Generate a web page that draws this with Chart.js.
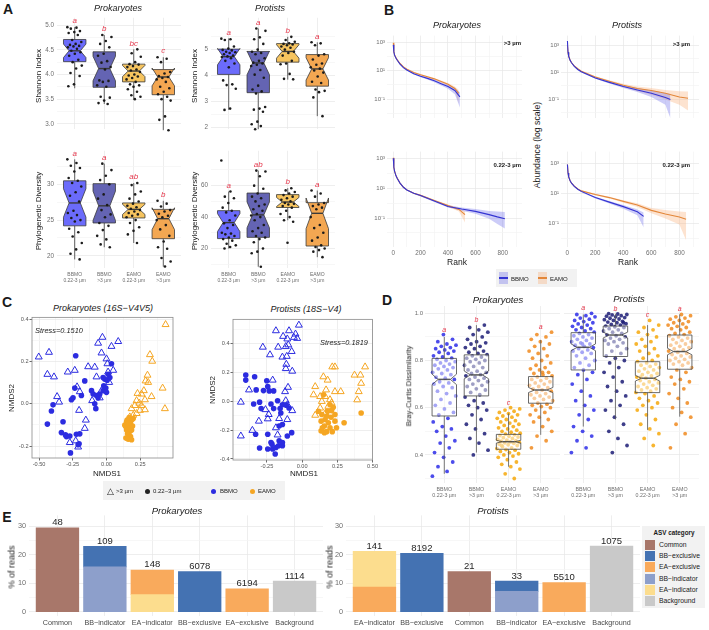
<!DOCTYPE html>
<html>
<head>
<meta charset="utf-8">
<script src="https://cdn.jsdelivr.net/npm/chart.js@4.4.1/dist/chart.umd.min.js"></script>
<style>
  body { margin: 0; width: 709px; height: 630px; position: relative; overflow: hidden; background: #fff;
         font-family: 'Liberation Sans', Arial, sans-serif; }
  canvas { position: absolute; }
  .t { position: absolute; white-space: nowrap; line-height: 1; color: #1a1a1a; }
  .bg { position: absolute; background: #f2f2f2; }
</style>
</head>
<body>
<script>
// ---------- data ----------

// Panel A: alpha diversity, boxes are [low whisker, q1, median, q3, high whisker]
const groupLabels = [['BBMO', '0.22-3 µm'], ['BBMO', '>3 µm'], ['EAMO', '0.22-3 µm'], ['EAMO', '>3 µm']];

const prokShannonBox = [[3.72, 4.26, 4.48, 4.71, 4.96], [3.40, 3.74, 4.12, 4.46, 4.80], [3.49, 3.85, 4.07, 4.21, 4.51], [2.87, 3.59, 3.95, 4.10, 4.35]];
const prokShannonPts = [
  [4.96, 4.95, 4.93, 4.88, 4.86, 4.84, 4.80, 4.70, 4.66, 4.62, 4.60, 4.58, 4.57, 4.55, 4.52, 4.48, 4.45, 4.42, 4.38, 4.30, 4.25, 4.18, 4.12, 4.03, 3.97, 3.80, 3.76],
  [4.80, 4.76, 4.68, 4.62, 4.55, 4.42, 4.38, 4.27, 4.24, 4.15, 4.10, 3.88, 3.87, 3.85, 3.78, 3.75, 3.55, 3.53, 3.47, 3.42, 3.40],
  [4.51, 4.43, 4.36, 4.25, 4.21, 4.20, 4.17, 4.15, 4.10, 4.08, 4.05, 4.00, 3.98, 3.96, 3.93, 3.90, 3.85, 3.80, 3.78, 3.75, 3.70, 3.65, 3.58, 3.55, 3.50],
  [4.35, 4.32, 4.25, 4.05, 4.02, 3.97, 3.95, 3.93, 3.90, 3.85, 3.75, 3.72, 3.65, 3.60, 3.55, 3.50, 3.47, 3.15, 3.08, 2.87]
];
const prokShannonSig = ['a', 'b', 'bc', 'c'];

const prokPdBox = [[19.5, 24.2, 27.4, 30.5, 33.5], [21.2, 24.6, 27.0, 30.1, 32.9], [21.8, 25.3, 26.5, 27.4, 30.2], [18.5, 22.4, 25.2, 26.5, 27.7]];
const prokPdPts = [
  [33.5, 33.0, 32.6, 32.3, 31.8, 30.9, 30.5, 30.2, 29.7, 28.9, 28.4, 27.6, 26.3, 26.0, 25.7, 25.3, 25.0, 24.8, 23.8, 23.3, 22.7, 21.8, 20.9, 20.3, 19.5],
  [32.9, 32.0, 31.2, 30.6, 30.0, 28.6, 28.0, 27.1, 26.4, 25.8, 25.4, 24.6, 24.2, 23.6, 22.8, 22.3, 21.6, 21.2],
  [30.2, 29.9, 29.0, 28.6, 28.0, 27.6, 27.3, 27.0, 26.8, 26.6, 26.4, 26.2, 26.0, 25.8, 25.6, 25.4, 25.0, 24.6, 24.0, 23.5, 23.0, 21.8],
  [27.7, 27.3, 26.9, 26.4, 26.2, 25.9, 25.6, 25.4, 25.0, 24.3, 23.7, 22.8, 22.0, 21.2, 21.0, 19.7, 19.2, 18.5]
];
const prokPdSig = ['a', 'a', 'ab', 'b'];

const protShannonBox = [[2.67, 4.03, 4.71, 5.00, 5.41], [1.93, 3.33, 4.47, 4.91, 5.79], [3.83, 4.50, 4.91, 5.21, 5.47], [2.43, 3.58, 4.24, 4.79, 5.26]];
const protShannonPts = [
  [5.40, 5.38, 5.35, 5.10, 5.02, 4.97, 4.95, 4.90, 4.88, 4.85, 4.80, 4.75, 4.72, 4.70, 4.65, 4.55, 4.45, 4.30, 3.80, 3.65, 3.62, 3.48, 2.72, 2.67],
  [5.79, 5.70, 5.45, 5.38, 5.20, 4.98, 4.90, 4.85, 4.80, 4.65, 4.55, 4.48, 4.45, 4.40, 4.35, 4.20, 4.02, 3.90, 3.60, 3.45, 3.38, 3.30, 2.78, 2.72, 2.68, 2.60, 2.22, 2.12, 2.05, 1.93],
  [5.47, 5.35, 5.28, 5.22, 5.20, 5.18, 5.15, 5.10, 5.05, 4.98, 4.90, 4.85, 4.75, 4.55, 4.45, 4.42, 4.05, 3.86, 3.84],
  [5.26, 5.22, 5.15, 4.80, 4.75, 4.60, 4.45, 4.40, 4.30, 4.25, 4.18, 4.10, 3.95, 3.75, 3.70, 3.45, 3.40, 3.35, 3.15, 2.43]
];
const protShannonSig = ['a', 'a', 'b', 'a'];

const protPdBox = [[20.0, 26.3, 36.5, 44.1, 56.3], [8.4, 27.1, 41.4, 55.3, 69.6], [38.0, 46.1, 49.6, 54.3, 58.4], [14.5, 21.6, 42.4, 49.2, 56.9]];
const protPdPts = [
  [76, 56.3, 53, 52, 49, 46, 44, 43, 41, 38, 36, 35, 33, 30, 29.5, 29, 28, 27, 26, 25, 23, 22, 21, 20],
  [69.6, 69, 66, 60, 58, 55, 53, 52, 50, 48, 47, 45, 44, 42, 41, 40, 38, 35, 33, 31, 30, 28, 27, 26, 24, 20, 18, 17, 8.4],
  [58.4, 57, 56, 55, 54, 53, 52, 51, 50, 49, 48.5, 48, 47, 46, 44, 42, 40, 38, 37, 23.7],
  [56.9, 55, 53, 49, 48, 47, 46, 45, 40, 35, 33, 30, 27, 25, 22, 21, 20, 19, 18, 14.5]
];
const protPdSig = ['a', 'ab', 'b', 'a'];

const shannonTicksProk = [3, 3.5, 4, 4.5, 5];
const pdTicksProk = [20, 25, 30];
const shannonTicksProt = [2, 3, 4, 5];
const pdTicksProt = [20, 40, 60];

// Panel B: rank abundance, rows are [rank, mean, low, high]
const prokLargeBBMO = [[1, 630, 560, 710], [5, 200, 180, 220], [10, 120, 108, 132], [20, 75, 67, 83], [30, 52, 46, 58], [50, 28, 25, 31], [75, 16, 14, 18], [100, 11, 9.8, 12.2], [150, 6, 5.2, 6.8], [200, 4, 3.4, 4.6], [250, 2.8, 2.3, 3.3], [300, 1.9, 1.5, 2.3], [350, 1.2, 0.9, 1.5], [400, 0.75, 0.52, 1.0], [450, 0.4, 0.22, 0.6], [487, 0.14, 0.025, 0.3]];
const prokLargeEAMO = [[1, 900, 800, 1000], [5, 230, 205, 255], [10, 130, 116, 144], [20, 80, 72, 88], [30, 56, 50, 62], [50, 31, 28, 34], [75, 18, 16, 20], [100, 12.5, 11, 14], [150, 7.2, 6.3, 8.1], [200, 5, 4.4, 5.6], [250, 3.6, 3.1, 4.1], [300, 2.6, 2.2, 3.0], [350, 1.7, 1.4, 2.0], [400, 1.1, 0.85, 1.35], [450, 0.55, 0.35, 0.75], [478, 0.25, 0.05, 0.45]];
const prokSmallBBMO = [[1, 1000, 900, 1100], [5, 250, 225, 275], [10, 140, 126, 154], [20, 70, 63, 77], [30, 45, 40, 50], [50, 22, 20, 24], [75, 11.5, 10.3, 12.7], [100, 7.5, 6.7, 8.3], [150, 4.5, 4.0, 5.0], [200, 3.2, 2.8, 3.6], [300, 1.4, 1.2, 1.6], [400, 0.6, 0.5, 0.72], [500, 0.4, 0.31, 0.5], [600, 0.28, 0.19, 0.4], [700, 0.17, 0.09, 0.3], [760, 0.12, 0.04, 0.27], [815, 0.09, 0.02, 0.25]];
const prokSmallEAMO = [[1, 1100, 1000, 1200], [5, 260, 235, 285], [10, 145, 130, 160], [20, 72, 65, 79], [30, 46, 41, 51], [50, 22, 20, 24], [75, 11.5, 10.4, 12.6], [100, 7.7, 6.9, 8.5], [150, 4.6, 4.1, 5.1], [200, 3.3, 2.9, 3.7], [300, 1.5, 1.3, 1.7], [400, 0.68, 0.58, 0.8], [480, 0.38, 0.27, 0.48], [524, 0.17, 0.05, 0.3]];
const protLargeBBMO = [[1, 2000, 1800, 2200], [5, 300, 270, 330], [10, 150, 135, 165], [20, 75, 67, 83], [30, 50, 45, 55], [50, 27, 24, 30], [75, 16, 14, 18], [100, 11, 9.7, 12.3], [200, 3.8, 3.3, 4.3], [300, 1.8, 1.5, 2.1], [400, 0.9, 0.7, 1.1], [500, 0.5, 0.35, 0.7], [600, 0.28, 0.15, 0.45], [700, 0.14, 0.04, 0.3], [736, 0.1, 0.004, 0.25]];
const protLargeEAMO = [[1, 1000, 900, 1100], [5, 280, 250, 310], [10, 150, 135, 165], [20, 78, 70, 86], [30, 52, 47, 57], [50, 29, 26, 32], [75, 18, 16, 20], [100, 12, 10.7, 13.3], [200, 4.5, 3.9, 5.1], [300, 2.2, 1.8, 2.6], [400, 1.1, 0.85, 1.4], [500, 0.63, 0.4, 0.9], [600, 0.45, 0.22, 0.7], [700, 0.28, 0.1, 0.5], [800, 0.15, 0.04, 0.4], [862, 0.12, 0.015, 0.38]];
const protSmallBBMO = [[1, 800, 720, 880], [5, 220, 198, 242], [10, 120, 108, 132], [20, 66, 59, 73], [30, 46, 41, 51], [50, 28, 25, 31], [75, 18, 16, 20], [100, 13, 11.5, 14.5], [200, 5, 4.3, 5.7], [300, 2.5, 2.0, 3.0], [400, 1.25, 0.9, 1.6], [500, 0.56, 0.33, 0.8], [545, 0.28, 0.05, 0.5]];
const protSmallEAMO = [[1, 800, 720, 880], [5, 220, 198, 242], [10, 120, 108, 132], [20, 66, 59, 73], [30, 47, 42, 52], [50, 29, 26, 32], [75, 19, 17, 21], [100, 14, 12.5, 15.5], [200, 8, 7, 9], [300, 5, 4.3, 5.8], [400, 2.8, 2.3, 3.3], [500, 1.6, 1.2, 2.1], [600, 0.7, 0.45, 1.0], [700, 0.4, 0.2, 0.75], [800, 0.25, 0.08, 0.6], [848, 0.18, 0.007, 0.55]];
const rankTicks = [0, 200, 400, 600, 800];
const abundExp = [-1, 1, 3];

// Panel C: NMDS coordinates [NMDS1, NMDS2]
const prokBBMOlarge = [[-0.502, 0.221], [-0.426, 0.243], [-0.438, 0.139], [-0.389, 0.127], [-0.366, 0.034], [-0.351, 0.008], [-0.287, 0.150], [-0.235, 0.158], [-0.218, 0.080], [-0.198, 0.057], [-0.203, -0.031], [-0.153, -0.077], [-0.161, -0.116], [-0.228, -0.175], [-0.210, -0.204], [-0.272, -0.183], [-0.136, 0.175], [-0.087, 0.173], [-0.074, 0.127], [-0.106, 0.015], [-0.062, 0.286], [-0.030, 0.314], [-0.037, 0.240], [0.000, 0.212], [0.007, 0.189], [0.037, 0.271], [0.050, 0.158], [0.087, 0.294], [0.012, 0.150], [0.020, 0.101], [-0.037, 0.062], [-0.050, 0.028]];
const prokBBMOsmall = [[-0.228, 0.227], [-0.161, 0.108], [-0.235, 0.074], [-0.260, 0.019], [-0.248, 0.028], [-0.186, 0.039], [-0.396, -0.005], [-0.408, -0.034], [-0.438, -0.096], [-0.322, -0.085], [-0.334, -0.136], [-0.304, -0.147], [-0.297, -0.155], [-0.272, -0.152], [-0.223, -0.144], [-0.198, -0.142], [-0.203, -0.189], [-0.210, -0.193], [-0.267, -0.232], [-0.111, 0.062], [-0.099, 0.046], [-0.074, 0.039], [-0.062, 0.028], [-0.087, 0.000], [-0.079, -0.023], [-0.050, 0.046], [-0.025, 0.062], [-0.020, 0.085], [-0.005, 0.074], [0.000, 0.054], [0.005, 0.111], [0.025, 0.124], [-0.012, 0.116], [0.012, 0.139], [0.037, 0.189], [-0.025, 0.124]];
const prokEAMOlarge = [[0.438, 0.374], [0.322, 0.232], [0.339, 0.201], [0.304, 0.135], [0.290, 0.108], [0.309, 0.101], [0.277, 0.062], [0.230, 0.049], [0.260, 0.046], [0.334, 0.034], [0.416, 0.074], [0.285, 0.019], [0.223, 0.015], [0.243, 0.003], [0.210, -0.008], [0.260, -0.008], [0.285, -0.028], [0.186, -0.023], [0.248, -0.031], [0.433, -0.023], [0.223, -0.046], [0.198, -0.054], [0.173, -0.062]];
const prokEAMOsmall = [[0.149, -0.085], [0.161, -0.101], [0.144, -0.108], [0.178, -0.093], [0.186, -0.077], [0.168, -0.116], [0.149, -0.124], [0.173, -0.131], [0.156, -0.142], [0.178, -0.155], [0.161, -0.167], [0.144, -0.162], [0.186, -0.170], [0.198, -0.070], [0.193, -0.105], [0.136, -0.101], [0.168, -0.065], [0.153, -0.077], [0.186, -0.124], [0.163, -0.090]];
const protBBMOlarge = [[-0.435, -0.005], [-0.435, -0.240], [-0.377, 0.080], [-0.353, -0.201], [-0.307, -0.137], [-0.279, 0.377], [-0.228, 0.324], [-0.209, 0.148], [-0.260, -0.057], [-0.244, -0.121], [-0.237, -0.091], [-0.186, 0.491], [-0.170, 0.377], [-0.140, 0.308], [-0.135, 0.452], [-0.105, 0.434], [-0.116, 0.381], [-0.093, 0.491], [-0.098, 0.393], [-0.074, 0.347], [-0.109, 0.313], [-0.058, 0.445], [-0.035, 0.438], [-0.023, 0.530], [-0.047, 0.468], [-0.070, 0.210], [-0.112, 0.258], [-0.116, 0.228], [-0.100, 0.098], [-0.121, 0.068], [-0.116, 0.005], [-0.105, -0.023], [-0.070, -0.064], [-0.105, -0.126], [-0.163, -0.119], [-0.174, -0.233], [-0.186, -0.183]];
const protBBMOsmall = [[-0.400, 0.148], [-0.400, 0.183], [-0.337, 0.171], [-0.326, 0.080], [-0.274, 0.075], [-0.251, 0.144], [-0.244, 0.103], [-0.233, 0.073], [-0.202, 0.073], [-0.344, -0.018], [-0.302, -0.005], [-0.291, -0.050], [-0.221, -0.018], [-0.202, -0.050], [-0.156, -0.050], [-0.174, 0.005], [-0.140, -0.023], [-0.112, -0.027], [-0.093, -0.046], [-0.151, -0.080], [-0.140, -0.160], [-0.163, -0.171], [-0.074, -0.217], [-0.105, -0.240], [-0.302, -0.324], [-0.244, -0.331], [-0.214, -0.297], [-0.209, -0.331], [-0.186, -0.320], [-0.167, -0.308], [-0.191, -0.365], [-0.140, -0.308], [-0.330, -0.228], [-0.244, -0.228], [-0.221, -0.285], [-0.163, -0.274], [-0.140, -0.285]];
const protEAMOlarge = [[0.151, 0.171], [0.214, 0.240], [0.233, 0.240], [0.093, 0.103], [0.081, 0.046], [0.128, 0.034], [0.170, 0.080], [0.233, 0.068], [0.274, 0.068], [0.163, 0.034], [0.198, 0.012], [0.128, -0.046], [0.186, -0.034], [0.093, -0.096], [0.167, -0.080], [0.209, -0.011], [0.181, 0.148], [0.372, 0.183], [0.414, 0.183], [0.447, 0.240], [0.419, 0.126], [0.402, 0.068], [0.391, 0.011], [0.140, 0.000]];
const protEAMOsmall = [[0.151, 0.046], [0.198, -0.023], [0.221, -0.041], [0.116, -0.068], [0.140, -0.091], [0.174, -0.103], [0.205, -0.110], [0.163, -0.126], [0.135, -0.137], [0.186, -0.148], [0.233, -0.137], [0.158, -0.171], [0.198, -0.183], [0.135, -0.205], [0.174, -0.210], [0.214, -0.210], [0.158, -0.217], [0.233, -0.091], [0.209, -0.064], [0.298, -0.148], [0.419, -0.080], [0.244, -0.183], [0.144, -0.183], [0.181, -0.068]];

// Panel D: Bray-Curtis dissimilarity, boxes are [low whisker, q1, median, q3, high whisker]
const brayBox = [[0.32, 0.565, 0.720, 0.809, 0.90], [0.41, 0.650, 0.739, 0.824, 0.95], [0.35, 0.424, 0.456, 0.487, 0.576], [0.485, 0.619, 0.675, 0.732, 0.887],
                 [0.52, 0.760, 0.856, 0.918, 0.995], [0.55, 0.817, 0.908, 0.946, 0.998], [0.506, 0.664, 0.725, 0.795, 0.95], [0.562, 0.763, 0.838, 0.908, 0.995]];
const brayPairs = [300, 276, 300, 276, 300, 276, 300, 276];
const braySig = ['a', 'b', 'c', 'a', 'a', 'b', 'c', 'a'];
const brayProkBBsmall = [0.31, 0.33, 0.35, 0.37, 0.39, 0.41, 0.43, 0.45, 0.46, 0.48, 0.50, 0.51, 0.52, 0.54, 0.555, 0.57, 0.58, 0.595, 0.61, 0.62, 0.635, 0.65, 0.66, 0.67, 0.685, 0.69, 0.70, 0.705, 0.71, 0.72, 0.725, 0.73, 0.74, 0.745, 0.75, 0.76, 0.765, 0.77, 0.775, 0.78, 0.785, 0.79, 0.795, 0.80, 0.805, 0.81, 0.815, 0.82, 0.83, 0.835, 0.84, 0.845, 0.85, 0.855, 0.86, 0.865, 0.87, 0.88, 0.89, 0.91];
const brayProkBBlarge = [0.40, 0.42, 0.45, 0.47, 0.49, 0.51, 0.53, 0.55, 0.57, 0.59, 0.60, 0.61, 0.62, 0.63, 0.645, 0.655, 0.665, 0.675, 0.68, 0.69, 0.695, 0.70, 0.71, 0.715, 0.72, 0.725, 0.73, 0.735, 0.74, 0.745, 0.75, 0.755, 0.76, 0.77, 0.775, 0.78, 0.79, 0.795, 0.80, 0.805, 0.81, 0.815, 0.82, 0.825, 0.83, 0.835, 0.84, 0.85, 0.855, 0.86, 0.87, 0.875, 0.88, 0.89, 0.90, 0.91, 0.92, 0.93, 0.94, 0.95];
const brayProkEAsmall = [0.30, 0.32, 0.34, 0.35, 0.36, 0.37, 0.38, 0.39, 0.395, 0.40, 0.405, 0.41, 0.415, 0.42, 0.423, 0.427, 0.43, 0.435, 0.44, 0.443, 0.446, 0.449, 0.451, 0.453, 0.455, 0.458, 0.46, 0.463, 0.466, 0.47, 0.473, 0.476, 0.479, 0.482, 0.485, 0.488, 0.492, 0.496, 0.50, 0.505, 0.51, 0.515, 0.52, 0.525, 0.53, 0.535, 0.54, 0.545, 0.55, 0.555, 0.56, 0.565, 0.57, 0.575, 0.58, 0.585, 0.59, 0.595, 0.60, 0.44];
const brayProkEAlarge = [0.43, 0.46, 0.48, 0.50, 0.52, 0.54, 0.55, 0.56, 0.57, 0.58, 0.59, 0.60, 0.605, 0.61, 0.615, 0.62, 0.63, 0.635, 0.64, 0.645, 0.65, 0.655, 0.66, 0.665, 0.67, 0.675, 0.68, 0.685, 0.69, 0.695, 0.70, 0.705, 0.71, 0.715, 0.72, 0.725, 0.73, 0.735, 0.74, 0.745, 0.75, 0.76, 0.765, 0.77, 0.78, 0.79, 0.80, 0.81, 0.82, 0.83, 0.84, 0.85, 0.86, 0.87, 0.88, 0.89, 0.90, 0.91, 0.92, 0.75];
const brayProtBBsmall = [0.41, 0.43, 0.46, 0.48, 0.50, 0.52, 0.55, 0.57, 0.59, 0.61, 0.63, 0.65, 0.67, 0.70, 0.72, 0.74, 0.75, 0.76, 0.77, 0.78, 0.79, 0.80, 0.81, 0.82, 0.83, 0.835, 0.84, 0.845, 0.85, 0.855, 0.86, 0.865, 0.87, 0.875, 0.88, 0.885, 0.89, 0.895, 0.90, 0.905, 0.91, 0.915, 0.92, 0.925, 0.93, 0.935, 0.94, 0.945, 0.95, 0.955, 0.96, 0.965, 0.97, 0.975, 0.98, 0.985, 0.99, 0.995, 1.0, 0.87];
const brayProtBBlarge = [0.41, 0.44, 0.47, 0.50, 0.53, 0.56, 0.59, 0.61, 0.63, 0.65, 0.67, 0.69, 0.71, 0.73, 0.75, 0.77, 0.79, 0.80, 0.81, 0.82, 0.83, 0.84, 0.85, 0.86, 0.87, 0.875, 0.88, 0.885, 0.89, 0.895, 0.90, 0.905, 0.91, 0.915, 0.92, 0.925, 0.93, 0.935, 0.94, 0.943, 0.946, 0.95, 0.953, 0.956, 0.96, 0.963, 0.966, 0.97, 0.973, 0.976, 0.979, 0.982, 0.985, 0.988, 0.99, 0.993, 0.995, 0.997, 0.999, 0.96];
const brayProtEAsmall = [0.44, 0.47, 0.49, 0.51, 0.53, 0.55, 0.57, 0.59, 0.60, 0.61, 0.62, 0.63, 0.64, 0.65, 0.66, 0.665, 0.67, 0.675, 0.68, 0.685, 0.69, 0.695, 0.70, 0.705, 0.71, 0.715, 0.72, 0.725, 0.73, 0.735, 0.74, 0.745, 0.75, 0.755, 0.76, 0.765, 0.77, 0.775, 0.78, 0.785, 0.79, 0.795, 0.80, 0.81, 0.82, 0.83, 0.84, 0.85, 0.86, 0.87, 0.88, 0.89, 0.90, 0.91, 0.92, 0.93, 0.94, 0.95, 0.97, 0.73];
const brayProtEAlarge = [0.43, 0.49, 0.53, 0.56, 0.58, 0.60, 0.62, 0.64, 0.66, 0.68, 0.70, 0.71, 0.72, 0.73, 0.75, 0.76, 0.77, 0.78, 0.785, 0.79, 0.795, 0.80, 0.805, 0.81, 0.815, 0.82, 0.825, 0.83, 0.835, 0.84, 0.845, 0.85, 0.855, 0.86, 0.865, 0.87, 0.875, 0.88, 0.885, 0.89, 0.895, 0.90, 0.905, 0.91, 0.915, 0.92, 0.93, 0.935, 0.94, 0.945, 0.95, 0.955, 0.96, 0.965, 0.97, 0.975, 0.98, 0.985, 0.99, 0.995];
const brayTicks = [0.4, 0.6, 0.8, 1.0];

// Panel E: % of reads per ASV category
const prokCats = ['Common', 'BB−indicator', 'EA−indicator', 'BB−exclusive', 'EA−exclusive', 'Background'];
const prokLower = [29.5, 15.8, 6.1, 14.2, 8.1, 10.8];
const prokUpper = [0, 7.2, 8.6, 0, 0, 0];
const prokLowerFill = ['Common', 'BB−indicator', 'EA−indicator', 'BB−exclusive', 'EA−exclusive', 'Background'];
const prokUpperFill = [null, 'BB−exclusive', 'EA−exclusive', null, null, null];
const prokAsvCount = [48, 109, 148, 6078, 6194, 1114];

const protCats = ['EA−indicator', 'BB−exclusive', 'Common', 'BB−indicator', 'EA−exclusive', 'Background'];
const protLower = [8.7, 20.6, 14.2, 7.2, 10.3, 23.1];
const protUpper = [12.6, 0, 0, 3.6, 0, 0];
const protLowerFill = ['EA−exclusive', 'BB−exclusive', 'Common', 'BB−indicator', 'EA−exclusive', 'Background'];
const protUpperFill = ['EA−indicator', null, null, 'BB−exclusive', null, null];
const protAsvCount = [141, 8192, 21, 33, 5510, 1075];

const asvLegend = ['Common', 'BB−exclusive', 'EA−exclusive', 'BB−indicator', 'EA−indicator', 'Background'];
const readTicks = [0, 10, 20, 30];

// ---------- styling ----------
const FONT = "'Liberation Sans', Arial, sans-serif";
Chart.defaults.font.family = FONT;
Chart.defaults.animation = false;
Chart.defaults.events = [];
Chart.defaults.plugins.legend.display = false;
Chart.defaults.plugins.tooltip.enabled = false;

const GRID = '#e7e7e7';
const GRID_MINOR = '#f4f4f4';
const TICK_COLOR = '#6e6e6e';
const SIG_COLOR = '#e5364b';
const alphaFill = ['#6b6bfb', '#6464b3', '#f6c45f', '#f3a752'];
const brayDot = ['rgba(45,45,232,0.85)', 'rgba(28,28,118,0.85)', 'rgba(246,168,10,0.85)', 'rgba(240,138,30,0.85)'];
const BLUE = '#2c2ce0', ORANGE = '#f5a623';
const ASV_COLORS = { 'Common': '#a8776a', 'BB−exclusive': '#4472b2', 'EA−exclusive': '#f9aa5c', 'BB−indicator': '#8d9fcb', 'EA−indicator': '#fcdd8e', 'Background': '#c9c9c9' };
const SUP = { '-1': '10⁻¹', '1': '10¹', '3': '10³' };

// ---------- helpers ----------
function text(s, x, y, o = {}) {
  const d = document.createElement('div');
  d.className = 't';
  d.textContent = s;
  d.style.left = x + 'px';
  d.style.top = y + 'px';
  d.style.fontSize = (o.size || 8) + 'px';
  if (o.bold) d.style.fontWeight = 'bold';
  if (o.italic) d.style.fontStyle = 'italic';
  if (o.color) d.style.color = o.color;
  const tx = o.align === 'left' ? '0' : o.align === 'right' ? '-100%' : '-50%';
  d.style.transform = 'translate(' + tx + ',-50%)' + (o.rot ? ' rotate(' + o.rot + 'deg)' : '');
  document.body.appendChild(d);
  return d;
}

function rect(x, y, w, h, color, cls) {
  const d = document.createElement('div');
  d.className = cls || 'bg';
  d.style.position = 'absolute';
  d.style.left = x + 'px'; d.style.top = y + 'px';
  d.style.width = w + 'px'; d.style.height = h + 'px';
  if (color) d.style.background = color;
  document.body.appendChild(d);
  return d;
}

// major ticks plus unlabelled minor ticks half way between them
function withMinors(majors, min, max) {
  const step = majors[1] - majors[0];
  const out = majors.map(v => ({ value: v }));
  for (let k = -4; k < majors.length + 4; k++) out.push({ value: majors[0] + (k + 0.5) * step, minor: true });
  return out.filter(t => t.value >= min - 1e-9 && t.value <= max + 1e-9).sort((a, b) => a.value - b.value);
}

function axis(o) {
  return {
    type: o.log ? 'logarithmic' : 'linear',
    min: o.min, max: o.max,
    offset: false,
    stacked: !!o.stacked,
    afterBuildTicks: s => { s.ticks = o.ticks.map(t => Object.assign({}, t)); },
    afterFit: s => { if (o.horizontal) s.height = o.pad; else s.width = o.pad; },
    grid: {
      offset: false,
      color: c => (c.tick && c.tick.minor) ? GRID_MINOR : GRID,
      lineWidth: 0.7,
      drawTicks: !!o.tickMarks,
      tickLength: 2.5,
      tickWidth: 0.8,
      tickColor: c => (c.tick && c.tick.minor) ? 'rgba(0,0,0,0)' : '#444'
    },
    border: { display: false },
    ticks: {
      display: !!o.fmt,
      autoSkip: false, maxRotation: 0, minRotation: 0,
      padding: o.tickPad == null ? 2 : o.tickPad,
      color: o.color || TICK_COLOR,
      font: { size: o.size || 6 },
      callback: (v, i, arr) => (!o.fmt || (arr[i] && arr[i].minor)) ? '' : o.fmt(v)
    }
  };
}

const cats = n => Array.from({ length: n }, (_, i) => ({ value: i + 1 }));

function chartAt(area, padL, padB, type, datasets, scales, plugins, padT) {
  const top = padT == null ? 2 : padT;
  const c = document.createElement('canvas');
  c.width = area.w + padL + 4;
  c.height = area.h + padB + top + 2;
  c.style.left = (area.x - padL) + 'px';
  c.style.top = (area.y - top) + 'px';
  document.body.appendChild(c);
  return new Chart(c, {
    type, data: { datasets },
    options: {
      responsive: false, devicePixelRatio: 1,
      layout: { padding: { top, right: 4, bottom: 2, left: 0 }, autoPadding: false },
      scales
    },
    plugins: plugins || []
  });
}

// deterministic horizontal spread for the jittered points
function jitter(pts, width, colorOf, r) {
  return pts.map((vals, i) => ({
    data: vals.map((v, j) => ({ x: i + 1 + (((j * 0.618034 + 0.37 * i) % 1) - 0.5) * width, y: v })),
    backgroundColor: colorOf(i), borderWidth: 0, pointRadius: r, clip: false
  }));
}

// notched boxes drawn on the chart's own scales
function boxPlugin(stats, fills, o) {
  const draw = chart => {
    const { ctx } = chart;
    const xs = chart.scales.x, ys = chart.scales.y;
    const P = v => ys.getPixelForValue(v);
    ctx.save();
    stats.forEach((s, i) => {
      const [lo, q1, med, q3, hi] = s;
      const cx = xs.getPixelForValue(i + 1);
      const hw = xs.getPixelForValue(1 + o.width / 2) - xs.getPixelForValue(1);
      const nh = 1.58 * (q3 - q1) / Math.sqrt(o.n[i]);
      ctx.lineWidth = o.lw;
      ctx.strokeStyle = o.whisker;
      ctx.beginPath();
      ctx.moveTo(cx, P(hi)); ctx.lineTo(cx, P(q3));
      ctx.moveTo(cx, P(q1)); ctx.lineTo(cx, P(lo));
      ctx.stroke();
      ctx.beginPath();
      ctx.moveTo(cx - hw, P(q3)); ctx.lineTo(cx + hw, P(q3));
      ctx.lineTo(cx + hw, P(med + nh)); ctx.lineTo(cx + hw / 2, P(med));
      ctx.lineTo(cx + hw, P(med - nh)); ctx.lineTo(cx + hw, P(q1));
      ctx.lineTo(cx - hw, P(q1)); ctx.lineTo(cx - hw, P(med - nh));
      ctx.lineTo(cx - hw / 2, P(med)); ctx.lineTo(cx - hw, P(med + nh));
      ctx.closePath();
      ctx.fillStyle = fills[i];
      ctx.fill();
      ctx.strokeStyle = o.edge;
      ctx.stroke();
      ctx.beginPath();
      ctx.moveTo(cx - hw / 2, P(med)); ctx.lineTo(cx + hw / 2, P(med));
      ctx.lineWidth = o.medLw;
      ctx.stroke();
      const top = o.pts ? Math.max(hi, ...o.pts[i]) : hi;
      ctx.fillStyle = SIG_COLOR;
      ctx.font = 'italic ' + o.sigSize + 'px ' + FONT;
      ctx.textAlign = 'center';
      ctx.textBaseline = 'middle';
      ctx.fillText(o.sig[i], cx, P(top) - o.sigGap);
    });
    ctx.restore();
  };
  return o.over ? { id: 'boxesOver', afterDatasetsDraw: draw } : { id: 'boxesUnder', beforeDatasetsDraw: draw };
}

const framePlugin = {
  id: 'frame',
  afterDatasetsDraw(chart) {
    const a = chart.chartArea, ctx = chart.ctx;
    ctx.save();
    ctx.strokeStyle = '#8a8a8a';
    ctx.lineWidth = 0.8;
    ctx.strokeRect(a.left, a.top, a.right - a.left, a.bottom - a.top);
    ctx.restore();
  }
};

function countPlugin(lower, upper, counts) {
  return {
    id: 'counts',
    afterDatasetsDraw(chart) {
      const { ctx } = chart;
      const xs = chart.scales.x, ys = chart.scales.y;
      ctx.save();
      ctx.fillStyle = '#262626';
      ctx.font = '9.5px ' + FONT;
      ctx.textAlign = 'center';
      ctx.textBaseline = 'bottom';
      counts.forEach((n, i) => ctx.fillText(String(n), xs.getPixelForValue(i + 1), ys.getPixelForValue(lower[i] + upper[i]) - 0.5));
      ctx.restore();
    }
  };
}

// ---------- panel A ----------
function alphaPanel(area, box, pts, sig, yMin, yMax, yTicks, yFmt, showX) {
  const padB = showX ? 22 : 0;
  chartAt(area, 22, padB, 'scatter', jitter(pts, 0.5, () => '#1b1b1b', 1.3), {
    x: axis({ min: 0.4, max: 4.6, ticks: cats(4), fmt: showX ? (v => groupLabels[v - 1]) : null, size: 5, pad: padB, horizontal: true, tickPad: 4 }),
    y: axis({ min: yMin, max: yMax, ticks: withMinors(yTicks, yMin, yMax), fmt: yFmt, size: 6.3, pad: 22, tickPad: 3 })
  }, [boxPlugin(box, alphaFill, { width: 0.76, n: pts.map(p => p.length), lw: 0.8, medLw: 1.4, edge: '#3a3a3a', whisker: '#3a3a3a', sig, sigSize: 8, sigGap: 6 })]);
}

alphaPanel({ x: 57, y: 13, w: 124, h: 121 }, prokShannonBox, prokShannonPts, prokShannonSig, 2.89, 5.15, shannonTicksProk, v => v.toFixed(1), false);
alphaPanel({ x: 57, y: 146, w: 124, h: 122 }, prokPdBox, prokPdPts, prokPdSig, 18.3, 34.7, pdTicksProk, v => String(v), true);
alphaPanel({ x: 211, y: 13, w: 124, h: 121 }, protShannonBox, protShannonPts, protShannonSig, 1.93, 6.2, shannonTicksProt, v => String(v), false);
alphaPanel({ x: 211, y: 146, w: 124, h: 122 }, protPdBox, protPdPts, protPdSig, 7.6, 82.2, pdTicksProt, v => String(v), true);

// ---------- panel B ----------
function rankPanel(area, bb, ea, eMin, eMax, showX) {
  const line = (rows, color) => ({ data: rows.map(r => ({ x: r[0], y: r[1] })), borderColor: color, borderWidth: 1.1, pointRadius: 0, fill: false });
  const band = (rows, k, color) => ({ data: rows.map(r => ({ x: r[0], y: r[k] })), borderWidth: 0, pointRadius: 0, backgroundColor: color, fill: k === 3 ? '-1' : false });
  const datasets = [
    line(bb, '#3434d2'), line(ea, '#e3873a'),
    band(bb, 2, 'rgba(0,0,0,0)'), band(bb, 3, 'rgba(110,110,235,0.35)'),
    band(ea, 2, 'rgba(0,0,0,0)'), band(ea, 3, 'rgba(248,175,120,0.35)')
  ];
  const min = Math.pow(10, eMin), max = Math.pow(10, eMax);
  const yTicks = [-2, -1, 0, 1, 2, 3].map(e => ({ value: Math.pow(10, e), minor: abundExp.indexOf(e) < 0 }))
    .filter(t => t.value >= min && t.value <= max);
  chartAt(area, 14, showX ? 12 : 0, 'line', datasets, {
    x: axis({ min: -45, max: 940, ticks: withMinors(rankTicks, -45, 940), fmt: showX ? (v => String(v)) : null, size: 6.3, pad: showX ? 12 : 0, horizontal: true, tickPad: 2 }),
    y: axis({ log: true, min, max, ticks: yTicks, fmt: v => SUP[String(Math.round(Math.log10(v)))] || '', size: 6, pad: 14, tickPad: 2 })
  });
}

rankPanel({ x: 387, y: 32, w: 135, h: 90 }, prokLargeBBMO, prokLargeEAMO, -2.36, 3.45, false);
rankPanel({ x: 387, y: 148, w: 135, h: 99 }, prokSmallBBMO, prokSmallEAMO, -2.94, 3.45, true);
rankPanel({ x: 561, y: 32, w: 138, h: 90 }, protLargeBBMO, protLargeEAMO, -2.4, 3.7, false);
rankPanel({ x: 561, y: 148, w: 138, h: 99 }, protSmallBBMO, protSmallEAMO, -2.6, 3.77, true);

// ---------- panel C ----------
function nmdsPanel(area, xr, yr, xTicks, yTicks, groups) {
  const tri = (pts, color) => ({ data: pts.map(p => ({ x: p[0], y: p[1] })), pointStyle: 'triangle', pointRadius: 4, borderWidth: 1, borderColor: color, backgroundColor: 'rgba(0,0,0,0)', clip: false });
  const dot = (pts, color) => ({ data: pts.map(p => ({ x: p[0], y: p[1] })), pointRadius: 2.8, borderWidth: 0, backgroundColor: color, clip: false });
  const datasets = [tri(groups[0], BLUE), tri(groups[2], ORANGE), dot(groups[1], BLUE), dot(groups[3], ORANGE)];
  chartAt(area, 20, 12, 'scatter', datasets, {
    x: axis({ min: xr[0], max: xr[1], ticks: withMinors(xTicks, xr[0], xr[1]), fmt: v => v.toFixed(2), size: 5.6, pad: 12, horizontal: true, tickMarks: true, tickPad: 1, color: '#555' }),
    y: axis({ min: yr[0], max: yr[1], ticks: withMinors(yTicks, yr[0], yr[1]), fmt: v => v.toFixed(1), size: 5.6, pad: 20, tickMarks: true, tickPad: 1, color: '#555' })
  }, [framePlugin]);
}

nmdsPanel({ x: 32, y: 315, w: 141, h: 143 }, [-0.552, 0.493], [-0.256, 0.408], [-0.5, -0.25, 0, 0.25], [-0.2, 0, 0.2, 0.4],
  [prokBBMOlarge, prokBBMOsmall, prokEAMOlarge, prokEAMOsmall]);
nmdsPanel({ x: 233, y: 317, w: 142, h: 143 }, [-0.4906, 0.5], [-0.407, 0.57], [-0.25, 0, 0.25, 0.5], [-0.4, -0.2, 0, 0.2, 0.4],
  [protBBMOlarge, protBBMOsmall, protEAMOlarge, protEAMOsmall]);

// ---------- panel D ----------
function brayPanel(area, offset, pts, showY) {
  const box = brayBox.slice(offset, offset + 4);
  const padL = showY ? 16 : 0;
  chartAt(area, padL, 18, 'scatter', jitter(pts, 0.74, i => brayDot[i], 1.9), {
    x: axis({ min: 0.4, max: 4.6, ticks: cats(4), fmt: v => groupLabels[v - 1], size: 5.3, pad: 18, horizontal: true, tickPad: 3 }),
    y: axis({ min: 0.281, max: 1.031, ticks: withMinors(brayTicks, 0.281, 1.031), fmt: showY ? (v => v.toFixed(1)) : null, size: 6, pad: padL, tickPad: 2 })
  }, [boxPlugin(box, ['rgba(255,255,255,0.5)', 'rgba(255,255,255,0.5)', 'rgba(255,255,255,0.5)', 'rgba(255,255,255,0.5)'],
    { over: true, width: 0.76, n: brayPairs.slice(offset, offset + 4), lw: 0.9, medLw: 1.5, edge: 'rgba(60,60,60,0.85)', whisker: 'rgba(90,90,90,0.9)', sig: braySig.slice(offset, offset + 4), sigSize: 7, sigGap: 5, pts })], 8);
}

brayPanel({ x: 425, y: 306, w: 135, h: 177 }, 0, [brayProkBBsmall, brayProkBBlarge, brayProkEAsmall, brayProkEAlarge], true);
brayPanel({ x: 564, y: 306, w: 135, h: 177 }, 4, [brayProtBBsmall, brayProtBBlarge, brayProtEAsmall, brayProtEAlarge], false);

// ---------- panel E ----------
function asvPanel(area, labels, lower, upper, lowerFill, upperFill, counts) {
  const bars = (vals, fill) => ({
    data: vals.map((v, i) => ({ x: i + 1, y: v })),
    backgroundColor: fill.map(k => k ? ASV_COLORS[k] : 'rgba(0,0,0,0)'),
    barThickness: area.w / 6.2 * 0.9, borderWidth: 0
  });
  chartAt(area, 14, 12, 'bar', [bars(lower, lowerFill), bars(upper, upperFill)], {
    x: axis({ min: 0.4, max: 6.6, ticks: cats(6), fmt: v => labels[v - 1], size: 7.2, pad: 12, horizontal: true, tickPad: 3, color: '#4a4a4a', stacked: true }),
    y: axis({ min: -1.43, max: 33.9, ticks: withMinors(readTicks, -1.43, 33.9), fmt: v => String(v), size: 7.3, pad: 14, tickPad: 3, stacked: true })
  }, [countPlugin(lower, upper, counts)]);
}

asvPanel({ x: 29, y: 510, w: 294, h: 106 }, prokCats, prokLower, prokUpper, prokLowerFill, prokUpperFill, prokAsvCount);
asvPanel({ x: 346, y: 510, w: 294, h: 106 }, protCats, protLower, protUpper, protLowerFill, protUpperFill, protAsvCount);

// ---------- text, titles, legends ----------
text('A', 8, 9, { size: 14, bold: true });
text('B', 389, 10, { size: 14, bold: true });
text('C', 7, 302, { size: 14, bold: true });
text('D', 387, 300, { size: 14, bold: true });
text('E', 7, 517, { size: 14, bold: true });

text('Prokaryotes', 118, 8, { size: 9, italic: true });
text('Protists', 270, 8, { size: 9, italic: true });
text('Shannon Index', 39, 76, { size: 8, rot: -90 });
text('Phylogenetic Diversity', 39, 211, { size: 8, rot: -90 });
text('Shannon Index', 195, 76, { size: 8, rot: -90 });
text('Phylogenetic Diversity', 195, 211, { size: 8, rot: -90 });

text('Prokaryotes', 457, 25, { size: 9, italic: true });
text('Protists', 627, 25, { size: 9, italic: true });
text('Abundance (log scale)', 536.5, 145, { size: 8.7, rot: -90 });
text('Rank', 457, 262, { size: 8.5 });
text('Rank', 628, 262, { size: 8.5 });
text('>3 µm', 521, 43, { size: 6, bold: true, align: 'right' });
text('0.22-3 µm', 521, 165, { size: 6, bold: true, align: 'right' });
text('>3 µm', 690, 44, { size: 6, bold: true, align: 'right' });
text('0.22-3 µm', 690, 165, { size: 6, bold: true, align: 'right' });
rect(496, 269, 81, 18);
rect(499, 272, 9, 12, 'rgba(110,110,235,0.35)', 'k');
rect(499, 277.4, 9, 1.2, '#3434d2', 'k');
text('BBMO', 511, 278.5, { size: 6, align: 'left' });
rect(538, 272, 9, 12, 'rgba(248,175,120,0.35)', 'k');
rect(538, 277.4, 9, 1.2, '#e3873a', 'k');
text('EAMO', 550, 278.5, { size: 6, align: 'left' });

text('Prokaryotes (16S−V4V5)', 103, 308, { size: 9, italic: true });
text('Protists (18S−V4)', 306, 309, { size: 9, italic: true });
text('NMDS2', 12, 398, { size: 8, rot: -90 });
text('NMDS2', 213, 390, { size: 8, rot: -90 });
text('NMDS1', 107, 474, { size: 8 });
text('NMDS1', 304, 474, { size: 8 });
text('Stress=0.1510', 35, 331, { size: 7.4, italic: true, align: 'left' });
text('Stress=0.1819', 320, 343, { size: 7.4, italic: true, align: 'left' });
rect(103, 481, 182, 19);
text('△', 110, 490.5, { size: 9 });
text('>3 µm', 116, 491, { size: 6, align: 'left' });
rect(144.5, 488.5, 5, 5, '#222', 'k').style.borderRadius = '50%';
text('0.22–3 µm', 153, 491, { size: 6, align: 'left' });
rect(210.5, 488.5, 5, 5, BLUE, 'k').style.borderRadius = '50%';
text('BBMO', 220, 491, { size: 6, align: 'left' });
rect(249.5, 488.5, 5, 5, ORANGE, 'k').style.borderRadius = '50%';
text('EAMO', 258, 491, { size: 6, align: 'left' });

text('Prokaryotes', 498, 300, { size: 9.5, italic: true });
text('Protists', 629, 299, { size: 9.5, italic: true });
text('Bray-Curtis Dissimilarity', 409, 386, { size: 7.6, rot: -90 });

text('Prokaryotes', 177, 511, { size: 9.5, italic: true });
text('Protists', 493, 511, { size: 9.5, italic: true });
text('% of reads', 12, 567, { size: 9, rot: -90 });
text('% of reads', 330, 567, { size: 9, rot: -90 });
rect(642, 526, 63, 82);
text('ASV category', 674, 533, { size: 6.3, bold: true });
asvLegend.forEach((k, i) => {
  const y = 545 + i * 11.2;
  rect(645, y - 5, 10, 10, ASV_COLORS[k], 'k');
  text(k, 659, y, { size: 6.8, align: 'left' });
});
</script>
</body>
</html>
